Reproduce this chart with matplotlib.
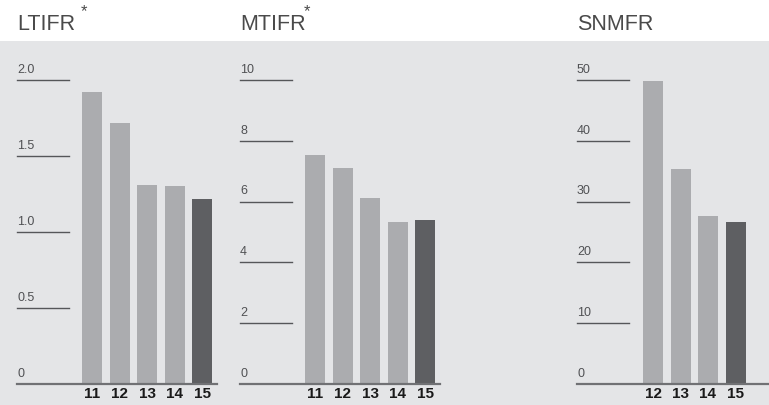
import matplotlib.pyplot as plt
from matplotlib.patches import Rectangle

plt.rcParams['font.family'] = ['Liberation Sans', 'DejaVu Sans']

# data
ltifr_years = ['11', '12', '13', '14', '15']
ltifr_values = [1.92, 1.72, 1.31, 1.30, 1.22]
ltifr_ticks = [0, 0.5, 1.0, 1.5, 2.0]
ltifr_ticklabels = ['0', '0.5', '1.0', '1.5', '2.0']

mtifr_years = ['11', '12', '13', '14', '15']
mtifr_values = [7.53, 7.10, 6.12, 5.33, 5.39]
mtifr_ticks = [0, 2, 4, 6, 8, 10]
mtifr_ticklabels = ['0', '2', '4', '6', '8', '10']

snmfr_years = ['12', '13', '14', '15']
snmfr_values = [49.8, 35.4, 27.6, 26.6]
snmfr_ticks = [0, 10, 20, 30, 40, 50]
snmfr_ticklabels = ['0', '10', '20', '30', '40', '50']

W, H = 769, 405
LIGHT = '#abacaf'
DARK = '#5e5f62'
BG = '#e4e5e7'

fig = plt.figure(figsize=(W / 100, H / 100), dpi=100)
fig.patch.set_facecolor('white')
fig.patches.append(Rectangle((0, 0), 1, (H - 41) / H, transform=fig.transFigure,
                             facecolor=BG, edgecolor='none', zorder=-10))

STEP = 27.5  # pixels between bar centres
BAR_W = 20 / STEP


def panel(left_px, right_px, first_bar_px, title, star, years, values, ticks, ticklabels):
    y0, y1 = 384, 80
    ax = fig.add_axes([left_px / W, 1 - y0 / H, (right_px - left_px) / W, (y0 - y1) / H])
    ax.set_facecolor('none')
    ax.set_zorder(2)
    n = len(values)
    xs = list(range(n))
    colors = [LIGHT] * (n - 1) + [DARK]
    ax.bar(xs, values, width=BAR_W, color=colors, zorder=2)
    x_left = -(first_bar_px - left_px) / STEP
    ax.set_xlim(x_left, x_left + (right_px - left_px) / STEP)
    ax.set_ylim(0, ticks[-1])
    for s in ax.spines.values():
        s.set_visible(False)
    ax.axhline(0, color='#707174', lw=1.6, zorder=3, clip_on=False)
    gw = 52 / (right_px - left_px)
    tr = ax.get_yaxis_transform()
    for t, lab in zip(ticks, ticklabels):
        if t != 0:
            ax.plot([0, gw], [t, t], transform=tr, color='#555659', lw=1.0, clip_on=False, zorder=1)
        ax.annotate(lab, (0, t), xycoords=tr, xytext=(0, 3), textcoords='offset points',
                    ha='left', va='bottom', fontsize=9, color='#505154')
    ax.set_yticks([])
    ax.set_xticks(xs)
    ax.set_xticklabels(years, fontsize=11, fontweight='bold', color='#1a1a1a')
    ax.tick_params(axis='x', length=0, pad=2.5)
    fig.text(left_px / W, 1 - 25 / H, title, fontsize=15.5, color='#4a4a4a', ha='left', va='center')
    if star:
        fig.text((left_px + 64) / W, 1 - 12 / H, '*', fontsize=12, color='#4a4a4a', ha='left', va='center')
    return ax


panel(17, 217, 92, 'LTIFR', True, ltifr_years, ltifr_values, ltifr_ticks, ltifr_ticklabels)
panel(240, 440, 315, 'MTIFR', True, mtifr_years, mtifr_values, mtifr_ticks, mtifr_ticklabels)
panel(577, 769, 653, 'SNMFR', False, snmfr_years, snmfr_values, snmfr_ticks, snmfr_ticklabels)

fig.savefig('out.png', dpi=100)
